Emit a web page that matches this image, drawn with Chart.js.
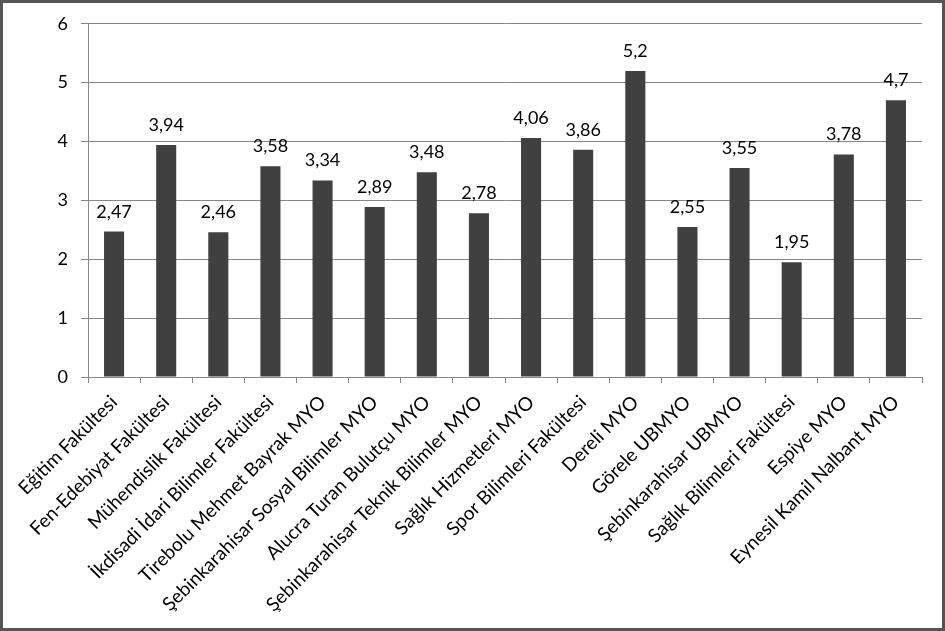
<!DOCTYPE html>
<html>
<head>
<meta charset="utf-8">
<script src="https://cdn.jsdelivr.net/npm/chart.js@4.4.0/dist/chart.umd.min.js"></script>
<style>
  html, body { margin: 0; padding: 0; background: #fff; }
  canvas { display: block; }
</style>
</head>
<body>
<canvas id="c" width="945" height="631"></canvas>
<script>
const categories = [
  "Eğitim Fakültesi",
  "Fen-Edebiyat Fakültesi",
  "Mühendislik Fakültesi",
  "İkdisadi İdari Bilimler Fakültesi",
  "Tirebolu Mehmet Bayrak MYO",
  "Şebinkarahisar Sosyal Bilimler MYO",
  "Alucra Turan Bulutçu MYO",
  "Şebinkarahisar Teknik Bilimler MYO",
  "Sağlık Hizmetleri MYO",
  "Spor Bilimleri Fakültesi",
  "Dereli MYO",
  "Görele UBMYO",
  "Şebinkarahisar UBMYO",
  "Sağlık Bilimleri Fakültesi",
  "Espiye MYO",
  "Eynesil Kamil Nalbant MYO"
];
const values = [2.47, 3.94, 2.46, 3.58, 3.34, 2.89, 3.48, 2.78, 4.06, 3.86, 5.2, 2.55, 3.55, 1.95, 3.78, 4.7];
const yTicks = [0, 1, 2, 3, 4, 5, 6];

const FONT = "Lato, 'Open Sans', sans-serif";

const frame = {
  id: 'frame',
  beforeDraw(chart) {
    const ctx = chart.ctx;
    ctx.save();
    ctx.fillStyle = '#fff';
    ctx.fillRect(0, 0, chart.width, chart.height);
    ctx.restore();
  },
  afterDraw(chart) {
    const ctx = chart.ctx;
    ctx.save();
    ctx.strokeStyle = '#555';
    ctx.lineWidth = 3;
    ctx.strokeRect(1.5, 1.5, chart.width - 3, chart.height - 3);
    ctx.restore();
  }
};

const dataLabels = {
  id: 'dataLabels',
  afterDatasetsDraw(chart) {
    const ctx = chart.ctx;
    const meta = chart.getDatasetMeta(0);
    ctx.save();
    ctx.font = "18px " + FONT;
    ctx.fillStyle = '#000';
    ctx.textAlign = 'center';
    ctx.textBaseline = 'alphabetic';
    meta.data.forEach((bar, i) => {
      const txt = String(values[i]).replace('.', ',');
      ctx.fillText(txt, bar.x, bar.y - 14);
    });
    ctx.restore();
  }
};

new Chart(document.getElementById('c'), {
  type: 'bar',
  data: {
    labels: categories,
    datasets: [{
      data: values,
      backgroundColor: '#404040',
      borderWidth: 0,
      categoryPercentage: 1,
      barPercentage: 0.385
    }]
  },
  options: {
    responsive: false,
    animation: false,
    devicePixelRatio: 1,
    layout: { padding: { top: 23, right: 23, left: 0, bottom: 0 } },
    plugins: { legend: { display: false }, tooltip: { enabled: false } },
    scales: {
      y: {
        min: 0, max: 6,
        afterBuildTicks(scale) { scale.ticks = yTicks.map(v => ({ value: v })); },
        afterFit(scale) { scale.width = 88; },
        ticks: { font: { size: 18, family: FONT }, color: '#000', padding: 13 },
        grid: { color: '#878787', lineWidth: 1, tickLength: 7, tickColor: '#878787' },
        border: { color: '#878787', width: 1 }
      },
      x: {
        afterFit(scale) { scale.height = 254; },
        ticks: { font: { size: 19, family: FONT }, color: '#000', minRotation: 45, maxRotation: 45, autoSkip: false, padding: 8 },
        grid: { display: true, drawOnChartArea: false, offset: true, tickLength: 6, color: '#878787', tickColor: '#878787' },
        border: { color: '#878787', width: 1 }
      }
    }
  },
  plugins: [frame, dataLabels]
});
</script>
</body>
</html>
